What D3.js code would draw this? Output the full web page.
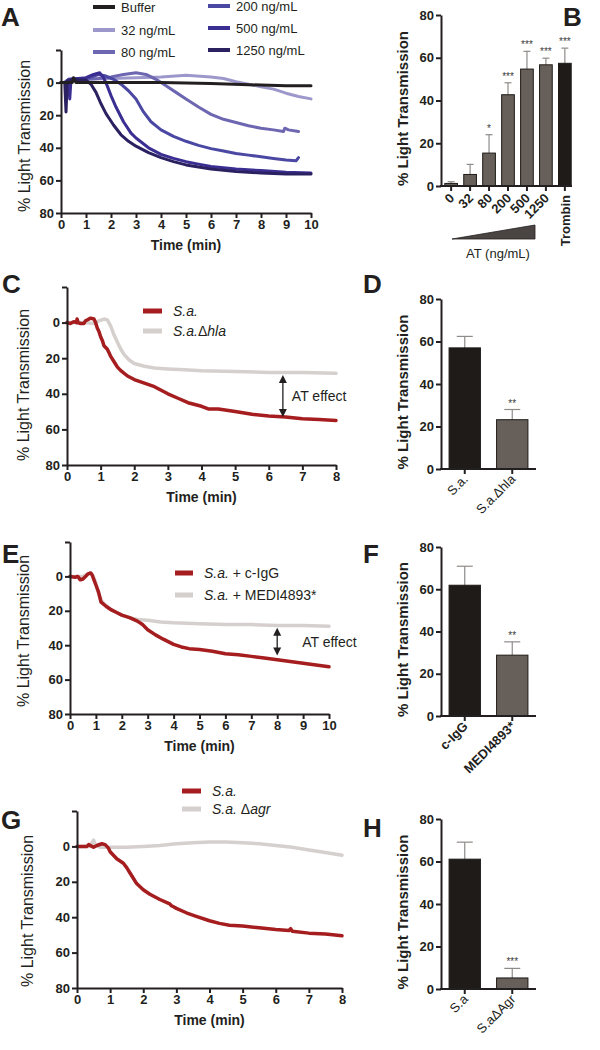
<!DOCTYPE html>
<html><head><meta charset="utf-8">
<script src="https://cdn.jsdelivr.net/npm/d3@7"></script>
<style>
body{margin:0;background:#fff}
svg{display:block}
text{font-family:Arial,"Liberation Sans",sans-serif;fill:#231f20}
</style>
</head><body>
<svg id="c" width="600" height="1050"></svg>
<script>
// ---------- DATA ----------
// Panel A : time (min), % light transmission
const A_buffer = [[0,0],[0.45,0],[0.5,-3],[0.6,0],[2,0],[4,0],[6,0.5],[8,1.5],[9,2],[10,2]];
const A_32 = [[0,0],[0.1,0],[0.3,-1.5],[1,-2],[2,-2.5],[3,-3],[4,-3.5],[5,-4.5],[6,-3.5],[6.5,-2.5],[7,-0.5],[7.5,1],[8,2.5],[8.5,4],[9,6.5],[9.5,8.5],[10,10]];
const A_80 = [[0,0],[0.15,0],[0.3,-2],[1,-2],[1.5,-2.5],[2,-3.5],[2.5,-5],[3,-6],[3.4,-5],[3.8,-2],[4.2,2],[4.6,6],[5,10],[5.5,15],[6,19.5],[6.5,22.5],[7,24.5],[7.5,26.5],[8,28],[8.5,29],[8.9,30],[8.95,28],[9.1,29],[9.5,30]];
const A_200 = [[0,0],[0.15,0],[0.3,-2],[1,-2.5],[1.5,-5],[1.8,-4],[2.1,-2],[2.4,1],[2.7,5],[3,10],[3.3,18],[3.6,24],[4,29],[4.5,33],[5,36],[5.5,38.5],[6,40.5],[6.5,42],[7,43.5],[7.5,44.5],[8,45.5],[8.5,46.5],[9,47.5],[9.4,48],[9.5,46]];
const A_500 = [[0,0],[0.3,0],[0.35,10],[0.4,-2],[1,-3],[1.3,-5],[1.55,-6],[1.7,-3],[1.85,2],[2,8],[2.2,15],[2.5,24],[2.8,31],[3,34],[3.5,40],[4,44],[4.5,46.5],[5,48.5],[5.5,50],[6,51.5],[7,53],[8,54],[9,55],[10,55.5]];
const A_1250 = [[0,0],[0.15,0],[0.2,18],[0.25,-1],[0.5,-2],[1,-1.5],[1.2,1],[1.4,6],[1.6,13],[1.8,19],[2.1,26],[2.4,32],[2.7,36],[3,39],[3.5,43],[4,46],[4.5,48.5],[5,50.5],[6,53],[7,54.5],[8,55.5],[9,56],[10,56]];
const A_labels = ["Buffer","32 ng/mL","80 ng/mL","200 ng/mL","500 ng/mL","1250 ng/mL"];

// Panel B
const B_cats = ["0","32","80","200","500","1250","Trombin"];
const B_means = [1.2,5.4,15.4,42.7,54.7,56.7,57.4];
const B_errs = [0.8,4.7,8.6,5.6,8.3,3.1,7.1];
const B_sig = ["","","*","***","***","***","***"];

// Panel C
const C_sa = [[0,0],[0.1,0.5],[0.2,-0.5],[0.28,0],[0.3,-2],[0.33,0],[0.4,0.5],[0.5,0.5],[0.55,-1],[0.6,-1.5],[0.7,-2.5],[0.8,-2],[0.85,0],[0.9,3],[0.95,5],[1.0,8],[1.05,10],[1.1,13],[1.2,15],[1.25,17],[1.3,19],[1.4,22],[1.5,25],[1.6,27],[1.8,30],[2.0,32],[2.3,34],[2.6,36],[3.0,40],[3.3,42.5],[3.6,45],[4.0,47],[4.2,48.5],[4.5,48.5],[5,50],[5.5,51.5],[6,52.5],[6.5,53],[7,54],[7.5,54.5],[8,55]];
const C_hla = [[0,0],[0.5,0],[0.8,0.5],[0.95,-1],[1.1,-2],[1.2,-1.5],[1.3,2],[1.4,7],[1.5,11],[1.6,15],[1.7,18],[1.85,21],[2,23],[2.3,24.5],[2.6,25.5],[3,26],[3.5,26.5],[4,27],[5,27.5],[6,28],[7,28],[8,28.5]];

// Panel D
const D_cats = ["S.a.","S.a.\u0394hla"];
const D_means = [57,23.2];
const D_errs = [5.4,4.8];
const D_sig = ["","**"];

// Panel E
const E_igg = [[0,0],[0.2,0.5],[0.3,0],[0.4,2],[0.5,1.5],[0.6,0],[0.7,-1.5],[0.8,-2],[0.85,-1],[0.9,1],[1.0,5],[1.1,9],[1.15,12],[1.2,15],[1.4,17.5],[1.6,19.5],[1.8,21],[2,22.5],[2.3,24],[2.6,26],[2.8,28],[3,31],[3.3,34],[3.6,36.5],[4,39.5],[4.3,41],[4.6,42],[5,42.5],[5.5,43.5],[6,45],[6.5,45.5],[7,46.5],[7.5,47.5],[8,48.5],[8.5,49.5],[9,50.5],[9.5,51.5],[10,52.5]];
const E_medi = [[0,0],[0.5,0],[0.7,-1.5],[0.8,-2],[0.9,0],[1.0,4],[1.1,10],[1.2,14],[1.4,17],[1.6,19.5],[1.8,21],[2,22.5],[2.3,24],[2.6,25],[3,25.5],[3.5,26.5],[4,27],[5,27.5],[6,28],[7,28],[8,28.5],[9,28.5],[10,29]];

// Panel F
const F_cats = ["c-IgG","MEDI4893*"];
const F_means = [61.9,28.8];
const F_errs = [9,6.3];
const F_sig = ["","**"];

// Panel G
const G_sa = [[0,0],[0.3,0],[0.35,-1],[0.45,0],[0.5,0.5],[0.6,-0.5],[0.75,-1.5],[0.85,-1],[0.95,1],[1,3],[1.1,5],[1.2,7],[1.4,9.5],[1.5,12],[1.6,15],[1.7,18],[1.8,21],[2,24.5],[2.2,27],[2.5,30],[2.8,32.5],[2.85,33.5],[2.9,34],[3.0,35],[3.3,37.5],[3.6,39.5],[4,42],[4.3,43.5],[4.6,44.5],[5,45],[5.5,46],[6,47],[6.4,47.5],[6.45,46.5],[6.5,48],[7,49],[7.5,49.5],[8,50.5]];
const G_agr = [[0,0],[0.35,0],[0.45,-2],[0.5,-3.5],[0.55,-1],[0.7,0.5],[1,0.5],[1.5,0.5],[2,0],[2.5,-0.5],[3,-1.5],[3.5,-2],[4,-2.5],[4.5,-2.5],[5,-2],[5.5,-1.5],[6,-0.5],[6.5,0.5],[7,2],[7.5,3.5],[8,5]];

// Panel H
const H_cats = ["S.a","S.a\u0394Agr"];
const H_means = [61.1,5.2];
const H_errs = [8,4.5];
const H_sig = ["","***"];

const yTicks = [-20,0,20,40,60,80];
const barTicks = [0,20,40,60,80];

// ---------- DRAWING ----------
const svg = d3.select("#c");
const INK = "#231f20", RED = "#a51d1f", GREY = "#d5d0ce";
const BLACKBAR = "#1e1b18", GREYBAR = "#675f59";

function styleAxis(g, fs){
  g.select(".domain").attr("stroke",INK).attr("stroke-width",2);
  g.selectAll(".tick line").attr("stroke",INK).attr("stroke-width",2);
  g.selectAll(".tick text").attr("font-size",fs).attr("font-weight","bold")
    .attr("font-family","Arial, Liberation Sans, sans-serif").attr("fill",INK);
}

function panelLetter(t,x,y){
  svg.append("text").attr("x",x).attr("y",y).attr("font-size",26).attr("font-weight","bold").text(t);
}

function lineChart(o){
  const x = d3.scaleLinear().domain(o.xd).range([o.x0,o.x1]);
  const y = d3.scaleLinear().domain([-20,80]).range([o.yTop,o.yBot]);
  const g = svg.append("g");
  const line = d3.line().x(d=>x(d[0])).y(d=>y(d[1]));
  o.series.forEach(s=>{
    g.append("path").attr("d",line(s.data)).attr("fill","none")
      .attr("stroke",s.color).attr("stroke-width",o.sw)
      .attr("stroke-linejoin","round").attr("stroke-linecap","round");
  });
  const ya = g.append("g").attr("transform",`translate(${o.x0},0)`)
    .call(d3.axisLeft(y).tickValues(yTicks).tickFormat(d=>d<0?"":d).tickSize(5).tickSizeOuter(0).tickPadding(2));
  styleAxis(ya,13);
  const xa = g.append("g").attr("transform",`translate(0,${o.yBot})`)
    .call(d3.axisBottom(x).ticks(o.xd[1]).tickSize(5).tickSizeOuter(0).tickPadding(2));
  styleAxis(xa,13);
  g.append("text").attr("x",(o.x0+o.x1)/2).attr("y",o.yBot+37).attr("text-anchor","middle")
    .attr("font-size",14).attr("font-weight","bold").text("Time (min)");
  g.append("text").attr("transform",`translate(${o.titleX},${o.titleY}) rotate(-90)`)
    .attr("text-anchor","middle").attr("font-size",16).text("% Light Transmission");
  return {x,y,g};
}

function legendItem(x,y,color,len,sw,parts,fs){
  svg.append("line").attr("x1",x).attr("x2",x+len).attr("y1",y).attr("y2",y)
    .attr("stroke",color).attr("stroke-width",sw);
  const t = svg.append("text").attr("x",x+len+(fs>13?11:6)).attr("y",y+5).attr("font-size",fs);
  parts.forEach(p=>t.append("tspan").attr("font-style",p[1]?"italic":"normal").text(p[0]));
}

function arrow(c,t,v0,v1,label){
  const ax = c.x(t), y0 = c.y(v0), y1 = c.y(v1);
  svg.append("line").attr("x1",ax).attr("x2",ax).attr("y1",y0+3).attr("y2",y1-3)
    .attr("stroke",INK).attr("stroke-width",1.3);
  svg.append("path").attr("d",`M${ax},${y0} l-4,8 l8,0 z`).attr("fill",INK);
  svg.append("path").attr("d",`M${ax},${y1} l-4,-8 l8,0 z`).attr("fill",INK);
  svg.append("text").attr("x",ax+label[0]).attr("y",(y0+y1)/2+5).attr("font-size",14).text("AT effect");
}

function barChart(o){
  const x = d3.scaleBand().domain(o.cats).range([o.x0,o.xr]).paddingInner(o.pi).paddingOuter(o.po);
  const y = d3.scaleLinear().domain([0,80]).range([o.y0,o.y80]);
  const g = svg.append("g");
  const bw = x.bandwidth();
  o.cats.forEach((c,i)=>{
    const v = o.means[i], e = o.errs[i], cx = x(c)+bw/2;
    g.append("line").attr("x1",cx).attr("x2",cx).attr("y1",y(v)).attr("y2",y(v+e))
      .attr("stroke","#8e8b89").attr("stroke-width",1.2);
    g.append("line").attr("x1",cx-o.cap).attr("x2",cx+o.cap).attr("y1",y(v+e)).attr("y2",y(v+e))
      .attr("stroke","#8e8b89").attr("stroke-width",1.2);
    g.append("rect").attr("x",x(c)).attr("y",y(v)).attr("width",bw).attr("height",y(0)-y(v))
      .attr("fill",o.colors[i]).attr("stroke",BLACKBAR).attr("stroke-width",1);
    if(o.sig[i]) g.append("text").attr("x",cx).attr("y",y(v+e)-3).attr("text-anchor","middle")
      .attr("font-size",10).style("fill","#3a3a3a").attr("font-family","DejaVu Sans, sans-serif").text(o.sig[i]);
    // tick
    g.append("line").attr("x1",cx).attr("x2",cx).attr("y1",o.y0).attr("y2",o.y0+5)
      .attr("stroke",INK).attr("stroke-width",2);
    if(o.vertical && o.vertical===c){
      g.append("text").attr("transform",`translate(${cx+5},${o.y0+9}) rotate(-90)`)
        .attr("text-anchor","end").attr("font-size",13).attr("font-weight","bold").text(c);
    } else {
      g.append("text").attr("transform",`translate(${cx+4},${o.y0+o.ldy}) rotate(-45)`)
        .attr("text-anchor","end").attr("font-size",o.lfs).attr("font-weight",o.lbold?"bold":"normal").text(c);
    }
  });
  g.append("line").attr("x1",o.x0-1).attr("x2",o.x1).attr("y1",o.y0).attr("y2",o.y0)
    .attr("stroke",INK).attr("stroke-width",2);
  const ya = g.append("g").attr("transform",`translate(${o.x0},0)`)
    .call(d3.axisLeft(y).tickValues(barTicks).tickSize(5).tickSizeOuter(0).tickPadding(2));
  styleAxis(ya,13);
  g.append("text").attr("transform",`translate(${o.titleX},${(o.y0+o.y80)/2+o.tdy}) rotate(-90)`)
    .attr("text-anchor","middle").attr("font-size",15).attr("font-weight","bold").text("% Light Transmission");
  return {x,y,g};
}

// ----- Panel A -----
const aColors = [INK,"#9d98cb","#6d66b1","#4b48a3","#3a2e92","#2b2160"];
const aData = [A_buffer,A_32,A_80,A_200,A_500,A_1250];
lineChart({xd:[0,10],x0:61,x1:311,yTop:50,yBot:213,sw:3,titleX:30,titleY:136,
  series:[1,2,3,4,5,0].map(i=>({data:aData[i],color:aColors[i]}))});
[[93,7],[93,30],[93,52],[208,6],[208,28],[208,50]].forEach((p,i)=>{
  legendItem(p[0],p[1],aColors[i],22,4,[[A_labels[i],false]],13);
});
panelLetter("A",1,26);

// ----- Panel B -----
barChart({cats:B_cats,means:B_means,errs:B_errs,sig:B_sig,colors:B_cats.map((c,i)=>i<6?GREYBAR:BLACKBAR),
  x0:441,xr:575,x1:572,pi:0.33,po:0.2,y0:186,y80:15,cap:3.5,lfs:13,lbold:true,ldy:13,vertical:"Trombin",titleX:408,tdy:8});
svg.append("path").attr("d","M452,239 L535,239 L535,225 Z").attr("fill","#4a4542").attr("stroke",INK).attr("stroke-width",0.8);
svg.append("text").attr("x",498).attr("y",258).attr("text-anchor","middle").attr("font-size",13).text("AT (ng/mL)");
panelLetter("B",563,26);

// ----- Panel C -----
const cC = lineChart({xd:[0,8],x0:67,x1:336,yTop:287,yBot:465,sw:3.5,titleX:29,titleY:385,
  series:[{data:C_hla,color:GREY},{data:C_sa,color:RED}]});
legendItem(143,311,RED,19,5,[["S.a.",true]],14);
legendItem(143,331,GREY,19,5,[["S.a.",true],["\u0394",false],["hla",true]],14);
arrow(cC,6.42,29.5,53,[9]);
panelLetter("C",2,293);
panelLetter("D",363,293);

// ----- Panel D -----
barChart({cats:D_cats,means:D_means,errs:D_errs,sig:D_sig,colors:[BLACKBAR,GREYBAR],
  x0:441,xr:536,x1:536,pi:0.34,po:0.17,y0:469,y80:299,cap:8,lfs:13,lbold:false,ldy:11,titleX:408,tdy:8});

// ----- Panel E -----
const cE = lineChart({xd:[0,10],x0:70,x1:329,yTop:542,yBot:714,sw:3.5,titleX:29,titleY:631,
  series:[{data:E_medi,color:GREY},{data:E_igg,color:RED}]});
legendItem(175,573,RED,18,5,[["S.a.",true],[" + c-IgG",false]],14);
legendItem(175,595,GREY,18,5,[["S.a.",true],[" + MEDI4893*",false]],14);
arrow(cE,8,29.8,46,[25]);
panelLetter("E",2,563);
panelLetter("F",363,563);

// ----- Panel F -----
barChart({cats:F_cats,means:F_means,errs:F_errs,sig:F_sig,colors:[BLACKBAR,GREYBAR],
  x0:441,xr:536,x1:536,pi:0.34,po:0.17,y0:716,y80:547,cap:8,lfs:13,lbold:true,ldy:11,titleX:408,tdy:8});

// ----- Panel G -----
lineChart({xd:[0,8],x0:77,x1:342,yTop:811,yBot:988,sw:3.5,titleX:33,titleY:911,
  series:[{data:G_agr,color:GREY},{data:G_sa,color:RED}]});
legendItem(182,791,RED,19,5,[["S.a.",true]],14);
legendItem(182,809,GREY,19,5,[["S.a. ",true],["\u0394",false],["agr",true]],14);
panelLetter("G",1,829);
panelLetter("H",363,837);

// ----- Panel H -----
barChart({cats:H_cats,means:H_means,errs:H_errs,sig:H_sig,colors:[BLACKBAR,GREYBAR],
  x0:441,xr:536,x1:536,pi:0.34,po:0.17,y0:989,y80:819,cap:8,lfs:13,lbold:false,ldy:11,titleX:408,tdy:8});
</script>
</body></html>
